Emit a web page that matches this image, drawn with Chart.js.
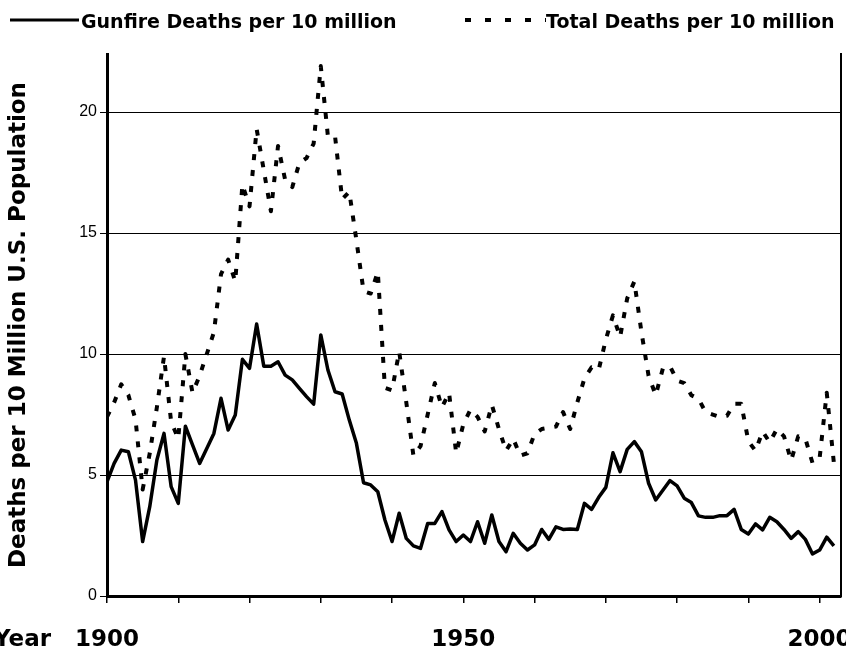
<!DOCTYPE html>
<html>
<head>
<meta charset="utf-8">
<script src="https://cdn.jsdelivr.net/npm/chart.js@4/dist/chart.umd.min.js"></script>
<style>
html,body{margin:0;padding:0;background:#ffffff;}
#wrap{width:846px;height:647px;position:relative;overflow:hidden;}
canvas{display:block;}
</style>
</head>
<body>
<div id="wrap"><canvas id="c" width="846" height="647"></canvas></div>
<script>
// ---- data ----
const years = [
  1900,1901,1902,1903,1904,1905,1906,1907,1908,1909,
  1910,1911,1912,1913,1914,1915,1916,1917,1918,1919,
  1920,1921,1922,1923,1924,1925,1926,1927,1928,1929,
  1930,1931,1932,1933,1934,1935,1936,1937,1938,1939,
  1940,1941,1942,1943,1944,1945,1946,1947,1948,1949,
  1950,1951,1952,1953,1954,1955,1956,1957,1958,1959,
  1960,1961,1962,1963,1964,1965,1966,1967,1968,1969,
  1970,1971,1972,1973,1974,1975,1976,1977,1978,1979,
  1980,1981,1982,1983,1984,1985,1986,1987,1988,1989,
  1990,1991,1992,1993,1994,1995,1996,1997,1998,1999,
  2000,2001,2002
];
const gunfireDeaths = [
  4.72,5.48,6.03,5.96,4.79,2.25,3.69,5.62,6.72,4.52,
  3.83,7.02,6.25,5.48,6.10,6.72,8.17,6.86,7.48,9.78,
  9.41,11.24,9.50,9.50,9.68,9.13,8.93,8.58,8.24,7.93,
  10.79,9.34,8.44,8.35,7.27,6.31,4.68,4.59,4.31,3.14,
  2.25,3.42,2.38,2.07,1.97,3.00,3.00,3.49,2.73,2.25,
  2.52,2.25,3.07,2.18,3.35,2.25,1.83,2.59,2.18,1.90,
  2.11,2.75,2.34,2.86,2.75,2.77,2.75,3.83,3.58,4.08,
  4.49,5.92,5.14,6.06,6.38,5.96,4.66,3.97,4.37,4.77,
  4.55,4.04,3.86,3.31,3.25,3.25,3.32,3.32,3.58,2.75,
  2.56,2.98,2.73,3.25,3.07,2.75,2.38,2.66,2.34,1.74,
  1.90,2.43,2.07
];
const totalDeaths = [
  7.4,8.0,8.75,8.3,7.3,4.4,5.9,7.8,9.9,7.2,
  6.5,10.0,8.4,9.1,10.0,10.9,13.3,13.9,13.0,17.0,
  16.1,19.3,17.6,15.9,18.6,17.2,16.9,17.9,18.1,18.7,
  21.9,19.0,19.0,16.4,16.7,14.7,12.6,12.5,13.4,8.6,
  8.5,10.1,8.0,5.8,6.2,7.5,8.8,7.8,8.4,5.9,
  7.1,7.7,7.4,6.8,7.9,6.9,6.0,6.5,5.8,5.9,
  6.7,6.9,6.95,7.0,7.6,6.9,8.0,9.0,9.45,9.35,
  10.6,11.6,10.7,12.3,13.0,10.9,9.1,8.3,9.4,9.5,
  8.9,8.8,8.3,8.15,7.6,7.5,7.4,7.45,7.95,7.95,
  6.4,6.0,6.8,6.35,6.9,6.6,5.6,6.6,6.5,5.5,
  5.7,8.4,5.5
];
const seriesNames = ['Gunfire Deaths per 10 million', 'Total Deaths per 10 million'];
const xTickLabels = [1900, 1950, 2000];
const xAxisName = 'Year';
const yAxisName = 'Deaths per 10 Million U.S. Population';

// ---- styling / layout constants ----
const BOLD_FAMILY = '"DejaVu Sans", "Liberation Sans", sans-serif';
const TICK_FAMILY = '"Liberation Sans", Arial, sans-serif';
const X_LABEL_SIZE = 23;
const X_TICK_LEN = 7;
const X_TICK_PAD = 23;
const LEGEND_DASH = [6, 14];

const refLegend = {
  id: 'refLegend',
  afterDraw(chart) {
    const ctx = chart.ctx;
    const slots = [
      {x0: 10, x1: 79, tx: 81, dash: []},
      {x0: 465, x1: 546, tx: 546, dash: LEGEND_DASH}
    ];
    chart.data.datasets.forEach((ds, i) => {
      const s = slots[i];
      ctx.save();
      ctx.strokeStyle = ds.borderColor;
      ctx.lineWidth = i === 0 ? 3 : ds.borderWidth;
      ctx.lineCap = 'butt';
      ctx.setLineDash(s.dash);
      ctx.beginPath();
      ctx.moveTo(s.x0, 20);
      ctx.lineTo(s.x1, 20);
      ctx.stroke();
      ctx.setLineDash([]);
      ctx.fillStyle = '#000';
      ctx.font = 'bold 19px ' + BOLD_FAMILY;
      ctx.textAlign = 'left';
      ctx.textBaseline = 'alphabetic';
      ctx.fillText(ds.label, s.tx, 28);
      ctx.restore();
    });
  }
};

const yearLabel = {
  id: 'yearLabel',
  afterDraw(chart) {
    const xs = chart.scales.x;
    const ctx = chart.ctx;
    ctx.save();
    ctx.fillStyle = '#000';
    ctx.font = 'bold ' + X_LABEL_SIZE + 'px ' + BOLD_FAMILY;
    ctx.textAlign = 'right';
    ctx.textBaseline = 'middle';
    const y = xs.top + X_TICK_LEN + X_TICK_PAD + X_LABEL_SIZE * 1.2 / 2;
    ctx.fillText(xAxisName, xs.left - 56, y);
    ctx.restore();
  }
};

new Chart(document.getElementById('c').getContext('2d'), {
  type: 'line',
  data: {
    labels: years,
    datasets: [
      {
        label: seriesNames[0],
        data: gunfireDeaths,
        borderColor: '#000000',
        backgroundColor: '#000000',
        borderWidth: 3.5,
        borderJoinStyle: 'round',
        pointRadius: 0,
        pointHoverRadius: 0,
        tension: 0,
        fill: false
      },
      {
        label: seriesNames[1],
        data: totalDeaths,
        borderColor: '#000000',
        backgroundColor: '#000000',
        borderWidth: 4,
        borderDash: [6, 10],
        borderCapStyle: 'butt',
        borderJoinStyle: 'round',
        pointRadius: 0,
        pointHoverRadius: 0,
        tension: 0,
        fill: false
      }
    ]
  },
  options: {
    responsive: false,
    animation: false,
    devicePixelRatio: 1,
    layout: {padding: {left: 0, right: 5, top: 0, bottom: 0}},
    plugins: {
      legend: {display: false},
      tooltip: {enabled: false},
      title: {display: false}
    },
    scales: {
      x: {
        type: 'linear',
        position: 'bottom',
        min: 1900,
        max: 2003,
        ticks: {
          stepSize: 10,
          includeBounds: false,
          autoSkip: false,
          maxRotation: 0,
          minRotation: 0,
          color: '#000',
          padding: X_TICK_PAD,
          font: {family: BOLD_FAMILY, weight: 'bold', size: X_LABEL_SIZE},
          callback: (v) => xTickLabels.includes(v) ? String(v) : ''
        },
        grid: {
          display: true,
          drawOnChartArea: false,
          drawTicks: true,
          tickLength: X_TICK_LEN,
          color: '#000',
          lineWidth: 1.5
        },
        border: {display: true, color: '#000', width: 3},
        afterFit(s) { s.height = 51; s.paddingLeft = 0; s.paddingRight = 0; }
      },
      y: {
        type: 'linear',
        position: 'left',
        min: 0,
        max: 22.4,
        ticks: {
          stepSize: 5,
          includeBounds: false,
          color: '#000',
          padding: 3,
          font: {family: TICK_FAMILY, size: 16}
        },
        grid: {
          color: '#000',
          lineWidth: 1,
          drawTicks: true,
          tickLength: 7
        },
        border: {display: true, color: '#000', width: 3},
        title: {
          display: true,
          text: yAxisName,
          color: '#000',
          font: {family: BOLD_FAMILY, weight: 'bold', size: 23},
          padding: {top: 5, bottom: 0}
        },
        afterFit(s) { s.width = 107; s.paddingTop = 54; s.paddingBottom = 0; }
      },
      yRight: {
        type: 'linear',
        position: 'right',
        min: 0,
        max: 22.4,
        ticks: {display: false},
        grid: {display: false, drawTicks: false},
        border: {display: true, color: '#000', width: 2},
        afterFit(s) { s.width = 0; s.paddingTop = 54; s.paddingBottom = 0; }
      }
    }
  },
  plugins: [refLegend, yearLabel]
});
</script>
</body>
</html>
